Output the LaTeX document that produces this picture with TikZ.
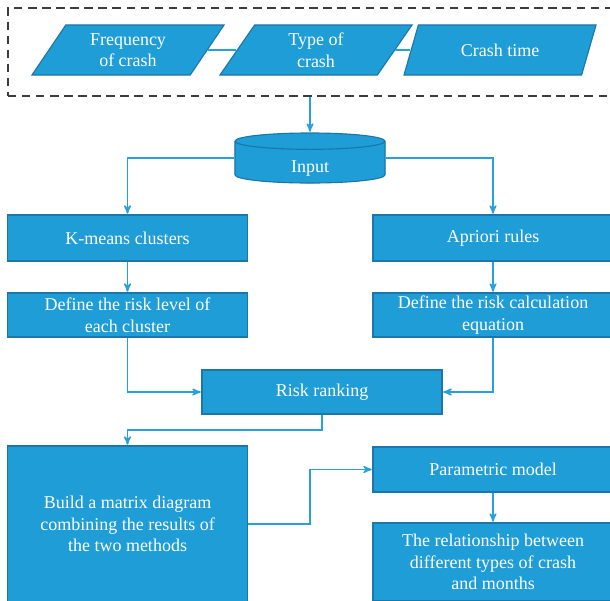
\documentclass[tikz,border=0pt]{standalone}
\usepackage{fontspec}
\setmainfont{Liberation Serif}
\usepackage{tikz}
\usetikzlibrary{calc}
\usetikzlibrary{positioning,shapes.geometric}
\usetikzlibrary{arrows}
\definecolor{boxfill}{RGB}{31,157,215}
\definecolor{boxline}{RGB}{28,118,170}
\definecolor{linkblue}{RGB}{38,160,222}
\definecolor{framegray}{RGB}{60,60,60}

\begin{document}
\begin{tikzpicture}[->,>=stealth',shorten >=0.5pt,x=0.025cm,y=-0.025cm,
	link/.style={draw=linkblue,line width=1.1pt},
	main node/.style={rectangle,draw=boxline,line width=0.8pt,fill=boxfill,text=white,align=center,minimum width=6cm,inner sep=1pt,font=\fontsize{12.8}{15.3}\selectfont},
	data node/.style={main node,trapezium,trapezium left angle=47,trapezium right angle=133,trapezium stretches body,minimum width=4.8cm,minimum height=1.25cm},
	store node/.style={main node,cylinder,shape border rotate=90,shape aspect=0.4,cylinder uses custom fill,cylinder body fill=boxfill,cylinder end fill=boxfill,minimum width=3.75cm,minimum height=1.25cm}]
	
	\useasboundingbox (0,0) rectangle (610,600);
	\clip (0,0) rectangle (610,600);
	
	% input data
	\node[draw=framegray,dashed,dash pattern=on 6pt off 4pt,line width=0.9pt,minimum width=15.425cm,minimum height=2.2cm] (src) at (316.5,52) {};
	\node[data node] (freq) at (128,50) {Frequency\\of crash};
	\node[data node] (type) at (316,50) {Type of\\crash};
	\node[data node] (time) at (500,50) {Crash time};
	\node[store node, anchor=shape center] (inp) at (310,158) {\raisebox{-0.225cm}[0pt][0pt]{Input}};
	
	% two methods
	\node[main node, minimum height=1.15cm] (km) at (127.5,238) {K-means clusters};
	\node[main node, minimum height=1.15cm] (ap) at (493,238) {Apriori rules};
	\node[main node, minimum height=1.1cm] (lvl) at (127.5,315) {Define the risk level of\\each cluster};
	\node[main node, minimum height=1.1cm] (eq) at (493,315) {Define the risk calculation\\equation};
	\node[main node, minimum height=1.1cm] (rk) at (322,392) {Risk ranking};
	
	% results
	\node[main node, minimum height=3.9cm] (mx) at (127.5,524) {Build a matrix diagram\\combining the results of\\the two methods};
	\node[main node, minimum height=1.125cm] (pm) at (493,469.5) {Parametric model};
	\node[main node, minimum height=1.95cm] (rel) at (493,562) {The relationship between\\different types of crash\\and months};
	
	\draw[link,-] (freq) -- (type);
	\draw[link,-] (type) -- (time);
	\draw[link] (inp.north |- src.south) -- (inp.north);
	\draw[link] (inp.west |- inp.shape center) -| (km.north);
	\draw[link] (inp.east |- inp.shape center) -| (ap.north);
	\draw[link] (km) -- (lvl);
	\draw[link] (ap) -- (eq);
	\draw[link] (lvl.south) |- (rk.west);
	\draw[link] (eq.south) |- (rk.east);
	\draw[link] (rk.south) |- ($(rk.south)!.5!(mx.north)$) -| (mx.north);
	\draw[link] (mx.east) -| ($(mx.east)!.5!(pm.west)$) |- (pm.west);
	\draw[link] (pm) -- (rel);
\end{tikzpicture}
\end{document}
